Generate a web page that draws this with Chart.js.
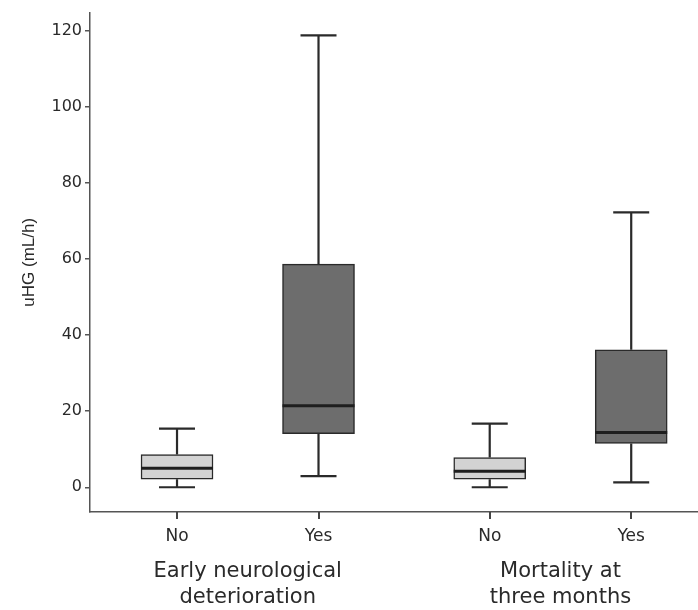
<!DOCTYPE html>
<html>
<head>
<meta charset="utf-8">
<script src="https://cdn.jsdelivr.net/npm/chart.js@4"></script>
<style>
  html, body { margin: 0; padding: 0; background: #fff; }
  #wrap { width: 698px; height: 610px; }
</style>
</head>
<body>
<div id="wrap"><canvas id="chart"></canvas></div>
<script>
const categories = ["No", "Yes", "No", "Yes"];
const groupLabels = [["Early neurological", "deterioration"], ["Mortality at", "three months"]];
const xValues = [1, 2, 3.21, 4.21];
const whiskerLow = [0, 2.9, 0, 1.3];
const q1 = [2.1, 14.1, 2.1, 11.5];
const median = [5.0, 21.4, 4.2, 14.4];
const q3 = [8.6, 58.6, 7.8, 36.1];
const whiskerHigh = [15.4, 118.7, 16.7, 72.2];
const yTicks = [0, 20, 40, 60, 80, 100, 120];

const ink = "#2a2a2a";
const fills = ["#d3d3d3", "#6d6d6d", "#d3d3d3", "#6d6d6d"];
const labelFont = '"DejaVu Sans", sans-serif';

Chart.defaults.font.family = labelFont;
Chart.defaults.color = ink;

const boxPlot = {
  id: "boxPlot",
  beforeDatasetsDraw(chart) {
    const { ctx, scales: { x, y } } = chart;
    ctx.save();
    ctx.strokeStyle = ink;
    ctx.lineWidth = 2.2;
    xValues.forEach((v, i) => {
      const px = x.getPixelForValue(v);
      const half = 18;
      ctx.beginPath();
      ctx.moveTo(px, y.getPixelForValue(q3[i]));
      ctx.lineTo(px, y.getPixelForValue(whiskerHigh[i]));
      ctx.moveTo(px - half, y.getPixelForValue(whiskerHigh[i]));
      ctx.lineTo(px + half, y.getPixelForValue(whiskerHigh[i]));
      ctx.moveTo(px, y.getPixelForValue(q1[i]));
      ctx.lineTo(px, y.getPixelForValue(whiskerLow[i]));
      ctx.moveTo(px - half, y.getPixelForValue(whiskerLow[i]));
      ctx.lineTo(px + half, y.getPixelForValue(whiskerLow[i]));
      ctx.stroke();
    });
    ctx.restore();
  },
  afterDraw(chart) {
    const { ctx, chartArea, scales: { x, y } } = chart;
    ctx.save();
    ctx.strokeStyle = "#1e1e1e";
    ctx.lineWidth = 3;
    xValues.forEach((v, i) => {
      const px = x.getPixelForValue(v);
      const py = y.getPixelForValue(median[i]);
      ctx.beginPath();
      ctx.moveTo(px - 36, py);
      ctx.lineTo(px + 36, py);
      ctx.stroke();
    });
    // x tick marks below the axis line
    ctx.strokeStyle = "#444";
    ctx.lineWidth = 2;
    xValues.forEach(v => {
      const px = Math.round(x.getPixelForValue(v));
      ctx.beginPath();
      ctx.moveTo(px, chartArea.bottom);
      ctx.lineTo(px, chartArea.bottom + 7);
      ctx.stroke();
    });
    // group labels under the No / Yes ticks
    ctx.fillStyle = ink;
    ctx.font = "21px " + labelFont;
    ctx.textAlign = "center";
    ctx.textBaseline = "middle";
    groupLabels.forEach((lines, g) => {
      const mid = (xValues[g * 2] + xValues[g * 2 + 1]) / 2;
      const px = x.getPixelForValue(mid);
      lines.forEach((t, k) => ctx.fillText(t, px, 572 + k * 26));
    });
    ctx.restore();
  }
};

new Chart(document.getElementById("chart"), {
  type: "bar",
  data: {
    datasets: [{
      data: xValues.map((v, i) => ({ x: v, y: [q1[i], q3[i]] })),
      backgroundColor: fills,
      borderColor: ink,
      borderWidth: 1.5,
      borderSkipped: false,
      barThickness: 72
    }]
  },
  options: {
    responsive: true,
    maintainAspectRatio: false,
    animation: false,
    layout: { padding: { top: 10, right: 0, left: 0, bottom: 0 } },
    plugins: { legend: { display: false }, tooltip: { enabled: false } },
    scales: {
      x: {
        type: "linear",
        offset: false,
        min: 0.385,
        max: 4.682,
        grid: { display: false, drawTicks: true, tickLength: 6 },
        border: { color: "#555", width: 1.5 },
        afterBuildTicks: scale => { scale.ticks = xValues.map(v => ({ value: v })); },
        afterFit: scale => { scale.height = 98; },
        ticks: {
          autoSkip: false,
          maxRotation: 0,
          padding: 8,
          font: { size: 17 },
          color: ink,
          callback: (value, index) => categories[index]
        }
      },
      y: {
        min: -6.5,
        max: 124.7,
        grid: { display: true, drawOnChartArea: false, drawTicks: true, tickLength: 5, color: "#555", lineWidth: 1.5 },
        border: { color: "#555", width: 1.5 },
        afterBuildTicks: scale => { scale.ticks = yTicks.map(v => ({ value: v })); },
        afterFit: scale => { scale.width = 90; },
        ticks: { font: { size: 16 }, color: ink, padding: 3 },
        title: {
          display: true,
          text: "uHG (mL/h)",
          font: { size: 17, family: '"Liberation Sans", Arial, sans-serif' },
          color: ink,
          padding: { top: 19, bottom: 0 }
        }
      }
    }
  },
  plugins: [boxPlot]
});
</script>
</body>
</html>
